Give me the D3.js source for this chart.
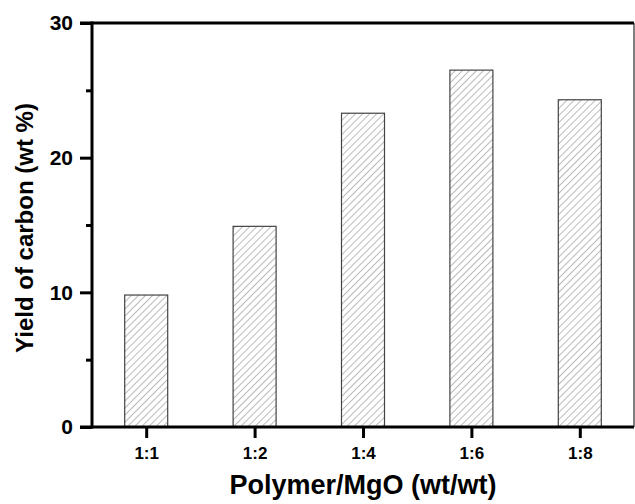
<!DOCTYPE html>
<html>
<head>
<meta charset="utf-8">
<script src="https://cdn.jsdelivr.net/npm/d3@7"></script>
<style>
  body { margin: 0; background: #fff; }
  svg { display: block; font-family: "Liberation Sans", Arial, sans-serif; font-weight: bold; }
</style>
</head>
<body>
<svg id="chart" width="635" height="504"></svg>
<script>
const categories = ["1:1", "1:2", "1:4", "1:6", "1:8"];
const yields = [9.8, 14.9, 23.3, 26.5, 24.3];
const yTicks = [0, 10, 20, 30];
const yMinorTicks = [5, 15, 25];

const margin = { top: 23, right: 1, bottom: 77, left: 92 },
  W = 635, H = 504,
  w = W - margin.left - margin.right,
  h = H - margin.top - margin.bottom;

const svg = d3.select("#chart");

// hatch pattern for the bars ("/" direction)
svg.append("defs")
  .append("pattern")
  .attr("id", "hatch")
  .attr("patternUnits", "userSpaceOnUse")
  .attr("width", 5)
  .attr("height", 5)
  .attr("patternTransform", "rotate(45)")
  .append("line")
  .attr("x1", 0).attr("y1", 0)
  .attr("x2", 0).attr("y2", 5)
  .attr("stroke", "#777")
  .attr("stroke-width", 1);

const g = svg.append("g")
  .attr("transform", "translate(" + margin.left + "," + margin.top + ")");

const x = d3.scaleLinear().domain([-0.5, categories.length - 0.5]).range([0, w]);
const y = d3.scaleLinear().domain([0, 30]).range([h, 0]);
const barW = 43;

// bars
g.selectAll(".bar")
  .data(yields)
  .enter()
  .append("rect")
  .attr("class", "bar")
  .attr("x", (d, i) => x(i) - barW / 2)
  .attr("y", (d) => y(d))
  .attr("width", barW)
  .attr("height", (d) => h - y(d))
  .attr("fill", "url(#hatch)")
  .attr("stroke", "#444")
  .attr("stroke-width", 1.2);

// frame: thin right edge, thick top
g.append("line")
  .attr("x1", w).attr("x2", w).attr("y1", 0).attr("y2", h)
  .attr("stroke", "#000").attr("stroke-width", 1);
g.append("line")
  .attr("x1", -12).attr("x2", w).attr("y1", 0).attr("y2", 0)
  .attr("stroke", "#000").attr("stroke-width", 3);

// y axis
const yAxis = g.append("g")
  .call(d3.axisLeft(y).tickValues(yTicks).tickSize(12).tickPadding(7).tickFormat(d3.format("d")));
yAxis.select(".domain").attr("stroke-width", 3).attr("d", "M0," + (h + 1.5) + "V-1.5");
yAxis.selectAll(".tick line").attr("stroke-width", 3);
yAxis.selectAll(".tick text").style("font-size", "21px").style("font-weight", "bold");

const yMinor = g.append("g")
  .call(d3.axisLeft(y).tickValues(yMinorTicks).tickSize(6).tickFormat(""));
yMinor.select(".domain").remove();
yMinor.selectAll(".tick line").attr("stroke-width", 3);

// x axis
const xAxis = g.append("g")
  .attr("transform", "translate(0," + h + ")")
  .call(d3.axisBottom(x).tickValues(d3.range(categories.length)).tickSize(11).tickPadding(9)
    .tickFormat((d) => categories[d]));
xAxis.select(".domain").attr("stroke-width", 3).attr("d", "M-12,0H" + w);
xAxis.selectAll(".tick line").attr("stroke-width", 3);
xAxis.selectAll(".tick text").style("font-size", "17px").style("font-weight", "bold");

// axis titles
svg.append("text")
  .attr("x", 363)
  .attr("y", 494)
  .attr("text-anchor", "middle")
  .style("font-size", "27px")
  .text("Polymer/MgO (wt/wt)");

svg.append("text")
  .attr("transform", "translate(33,228) rotate(-90)")
  .attr("text-anchor", "middle")
  .style("font-size", "24px")
  .text("Yield of carbon (wt %)");
</script>
</body>
</html>
